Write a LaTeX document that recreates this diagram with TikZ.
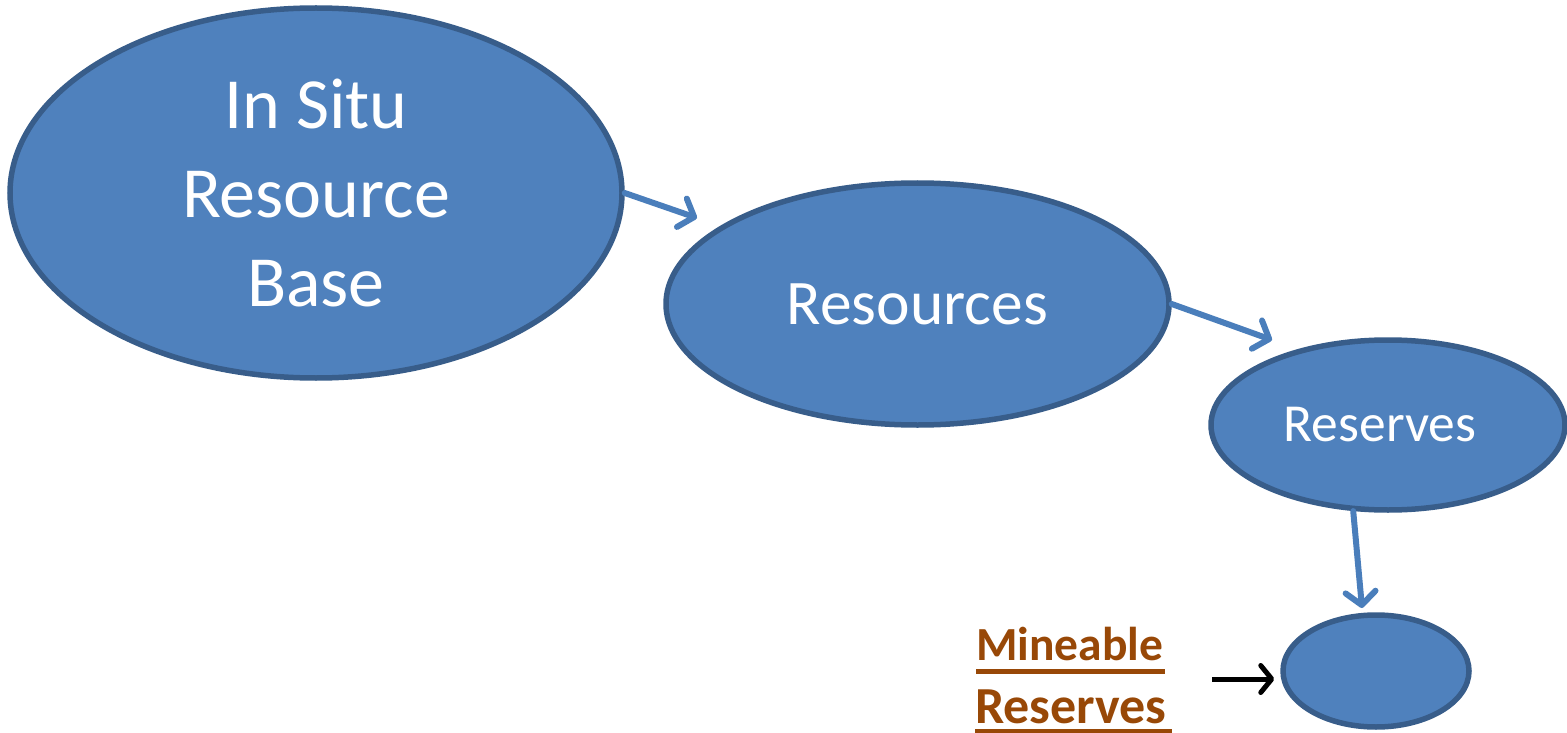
\documentclass[tikz,border=0pt]{standalone}
\usepackage{fontspec}
\setmainfont{Carlito}
\usetikzlibrary{shapes.geometric,arrows.meta,calc}
\definecolor{bubble}{HTML}{4F81BD}
\definecolor{bubbleedge}{HTML}{385D8A}
\definecolor{flow}{HTML}{4A7EBB}
\definecolor{ochre}{HTML}{984807}
\begin{document}
\begin{tikzpicture}[x=1pt,y=-1pt,
  stage/.style={ellipse, draw=bubbleedge, fill=bubble, line width=5.5pt,
    inner sep=0pt, text=white, align=center},
  flowarrow/.style={draw=flow, line width=6pt, line cap=round,
    -{Straight Barb[length=13pt,width=30pt,line width=6pt,round]}},
  pointer/.style={draw=black, line width=5pt,
    -{Straight Barb[length=11pt,width=27pt,line width=5pt,round]}},
  note/.style={text=ochre, inner sep=0pt, anchor=base west},
  rulebar/.style={draw=ochre, line width=4.5pt}]
\useasboundingbox (0,0) rectangle (1567,733);

% the four stages, from largest to smallest
\node[stage, minimum width=612pt, minimum height=370pt,
  font=\fontsize{72}{89}\selectfont] (base) at (316,193) {In Situ\\Resource\\Base};
\node[stage, minimum width=503pt, minimum height=242pt,
  font=\fontsize{63.5}{74}\selectfont] (res) at (917.5,304) {Resources};
\node[stage, minimum width=354pt, minimum height=170pt,
  font=\fontsize{53.5}{62}\selectfont] (rsv) at (1388,425) {\hspace*{-16pt}Reserves};
\node[stage, minimum width=186pt, minimum height=112pt] (mine) at (1376,671) {};

% label of the last stage, underlined
\node[note, font=\fontsize{47.5}{57}\selectfont\bfseries] (lbl1) at (976,660) {Mineable};
\node[note, font=\fontsize{52}{62}\selectfont\bfseries] (lbl2) at (975,723) {Reserves};
\draw[rulebar] (lbl1.base west |- 0,671.5) -- (1165,671.5);
\draw[rulebar] (lbl2.base west |- 0,731) -- (1172,731);

% flow between stages
\coordinate (t1) at (697,218);
\coordinate (t2) at (1272,340);
\coordinate (t3) at (1362,608);
\draw[flowarrow] (base.east) -- (t1);
\draw[flowarrow] (res.east) -- (t2);
\draw[flowarrow] (rsv.248) -- (t3);

% pointer from the label to the last stage
\coordinate (k) at (1212,679);
\draw[pointer, shorten >=6pt] (k) -- (k -| mine.west);
\end{tikzpicture}
\end{document}
